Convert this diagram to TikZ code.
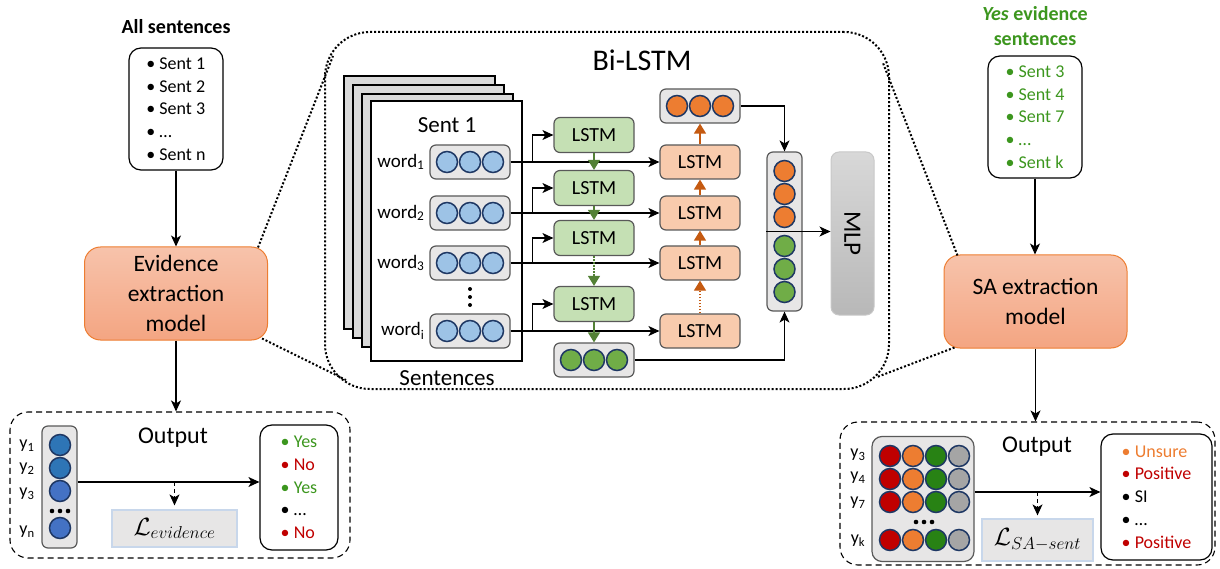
\documentclass[tikz,border=0pt]{standalone}
\usepackage{fontspec}
\setmainfont{Carlito}
\usetikzlibrary{arrows.meta,calc}
\definecolor{lstmG}{HTML}{C5E0B4}
\definecolor{lstmO}{HTML}{F8CBAD}
\definecolor{boxgray}{HTML}{E7E6E6}
\definecolor{edgegray}{HTML}{595959}
\definecolor{navy}{HTML}{1F3864}
\definecolor{cblue}{HTML}{9DC3E6}
\definecolor{cblueD}{HTML}{2E75B6}
\definecolor{cblueM}{HTML}{4472C4}
\definecolor{cgreen}{HTML}{70AD47}
\definecolor{corange}{HTML}{ED7D31}
\definecolor{arrG}{HTML}{538135}
\definecolor{arrO}{HTML}{C55A11}
\definecolor{txtG}{RGB}{60,150,30}
\definecolor{txtR}{HTML}{C00000}
\definecolor{cred}{HTML}{C00000}
\definecolor{cgreenD}{RGB}{40,130,20}
\definecolor{cgray}{HTML}{A5A5A5}
\definecolor{modtop}{HTML}{F7C3AB}
\definecolor{modbot}{HTML}{F4A582}
\definecolor{sheet}{HTML}{D9D9D9}
\definecolor{lborder}{RGB}{200,215,235}
\definecolor{mlpT}{RGB}{216,216,216}
\definecolor{mlpB}{RGB}{184,184,184}
\definecolor{mlpD}{RGB}{200,200,200}
\tikzset{
  listbox/.style={draw=black, line width=1.2pt, rounded corners=12pt, align=left, inner sep=0pt,
     font=\fontsize{18}{22.75}\selectfont},
  model/.style={draw=corange, line width=1pt, rounded corners=16pt, top color=modtop, bottom color=modbot,
     align=center, font=\fontsize{23.5}{30}\selectfont, minimum width=183pt, minimum height=93pt, inner sep=0pt},
  lstmg/.style={draw=edgegray, fill=lstmG, line width=1.2pt, rounded corners=6pt, minimum width=80pt,
     minimum height=35pt, inner sep=0pt, font=\fontsize{20}{24}\selectfont},
  lstmo/.style={lstmg, fill=lstmO, minimum height=34pt},
  vecbox/.style={draw=edgegray, fill=boxgray, line width=1.2pt, rounded corners=6pt, minimum width=80pt,
     minimum height=34pt, inner sep=0pt},
  dot/.style={circle, draw=navy, line width=1.5pt, minimum size=21pt, inner sep=0pt},
  arr/.style={-{Stealth[length=11pt,width=10pt,inset=3pt]}, line width=1.1pt},
  garr/.style={draw=arrG, line width=1.2pt, -{Triangle[length=10pt,width=12pt]}, arrG},
  oarr/.style={draw=arrO, line width=1.2pt, -{Triangle[length=10pt,width=12pt]}, arrO},
  funnel/.style={line width=2pt, dash pattern=on 2pt off 2pt},
  dashbox/.style={draw, line width=1.1pt, dash pattern=on 6pt off 4pt, rounded corners=18pt, inner sep=0pt},
  sheetbox/.style={draw=black, line width=2pt, fill=sheet, minimum width=151pt, minimum height=253pt, inner sep=0pt},
  lossbox/.style={draw=lborder, line width=1.2pt, fill=boxgray, inner sep=0pt, font=\fontsize{27}{30}\selectfont},
}
\begin{document}
\begin{tikzpicture}[x=1pt,y=-1pt]
\useasboundingbox (0,0) rectangle (1220,569);

% ================= LEFT COLUMN =================
\node[font=\bfseries\fontsize{20}{25}\selectfont] (alltitle) at (176,27) {All sentences};
\node[listbox, minimum width=94pt, minimum height=122pt] (allbox) at (176,109)
  {• Sent 1\\• Sent 2\\• Sent 3\\• …\\• Sent n};
\node[model] (evbox) at (176,293.5) {Evidence\\extraction\\model};
\node[dashbox, minimum width=340pt, minimum height=146pt] (outL) at (180,485) {};
\node[font=\fontsize{24}{28}\selectfont] (outLt) at (173,438) {Output};
\node[vecbox, minimum width=35pt, minimum height=122pt] (ycol) at (59.5,487) {};
\foreach \k/\y/\c in {1/445/cblueD,2/468/cblueD,3/491/cblueM,4/528/cblueM}
  \node[dot, fill=\c] (yc\k) at (60,\y) {};
\foreach \dx in {-8,0,8} \fill (60+\dx,511) circle (2.3);
\foreach \k/\y/\t in {1/446/1,2/469/2,3/494/3,4/532/n}
  \node[font=\fontsize{18}{22}\selectfont] (yl\k) at (27,\y) {y\textsubscript{\t}};
\node[listbox, minimum width=78pt, minimum height=125pt] (listL) at (299,487.5)
  {\color{txtG}• Yes\\\color{txtR}• No\\\color{txtG}• Yes\\\color{black}• …\\\color{txtR}• No};
\node[lossbox, minimum width=125pt, minimum height=37pt] (Lev) at (174.5,528.5) {$\mathcal{L}_{evidence}$};

\draw[arr] (allbox.south) -- (evbox.north);
\draw[arr] (evbox.south) -- (evbox.south |- outL.north);
\draw[arr] ([yshift=5pt]ycol.east) coordinate (aL) -- (aL -| listL.west);
\draw[arr, dash pattern=on 4pt off 3pt] (aL -| Lev.north) -- ([yshift=4pt]Lev.north);

% ================= CENTER =================
\node[draw, funnel, rounded corners=45pt, minimum width=564pt, minimum height=357pt, inner sep=0pt] (region) at (607,210.5) {};
\node[font=\fontsize{30}{34}\selectfont] (bititle) at (642,60) {Bi-LSTM};

\node[sheetbox] (sh1) at (419.5,202.5) {};
\node[sheetbox] (sh2) at (428.5,211.5) {};
\node[sheetbox] (sh3) at (437.5,220.5) {};
\node[sheetbox, fill=white, minimum height=260pt] (sh4) at (446.5,231) {};
\node[font=\fontsize{23}{27}\selectfont] (sent1) at (447,125) {Sent 1};
\node[font=\fontsize{23}{27}\selectfont] (sents) at (447,378) {Sentences};
\foreach \dy in {-8,0,8} \fill (470,297+\dy) circle (2);

% word boxes
\foreach \i/\y/\t in {1/162/1,2/213/2,3/263/3,4/331/i}{
  \node[vecbox] (w\i) at (470,\y) {};
  \foreach \k/\dx in {1/-23,2/0,3/23}
    \node[dot, fill=cblue] (w\i c\k) at (470+\dx,\y) {};
  \node[anchor=east, font=\fontsize{19}{22}\selectfont] (wl\i) at (428,\y) {word\textsubscript{\t}};
}
% green LSTMs
\foreach \i/\y in {1/135,2/188,3/238,4/304}
  \node[lstmg] (g\i) at (594,\y) {LSTM};
\node[vecbox] (gv) at (594,360) {};
\foreach \k/\dx in {1/-23,2/0,3/23}
  \node[dot, fill=cgreen] (gvc\k) at (594+\dx,360) {};
% orange LSTMs
\foreach \i/\y in {1/162,2/213,3/263,4/331}
  \node[lstmo] (o\i) at (700,\y) {LSTM};
\node[vecbox] (ov) at (700,106) {};
\foreach \k/\dx in {1/-23,2/0,3/23}
  \node[dot, fill=corange] (ovc\k) at (700+\dx,106) {};
% concat column
\node[vecbox, minimum width=35pt, minimum height=159pt] (cat) at (784.5,231.5) {};
\draw[line width=1.1pt] (cat.west) -- (cat.east);
\foreach \k/\y/\c in {1/171/corange,2/194/corange,3/217/corange,4/246/cgreen,5/269/cgreen,6/292/cgreen}
  \node[dot, fill=\c] (catc\k) at (784.5,\y) {};
% MLP
\node[draw=mlpD, line width=1pt, rounded corners=8pt, top color=mlpT, bottom color=mlpB,
  minimum width=43pt, minimum height=163pt, inner sep=0pt] (mlp) at (852.5,233.5) {};
\node[rotate=-90, font=\fontsize{25}{28}\selectfont] (mlpt) at (mlp) {MLP};

% connectors center
\foreach \i in {1,2,3,4}{
  \draw[arr] (w\i.east) -- (o\i.west);
  \path (w\i.east) ++(22,0) coordinate (b\i);
  \draw[arr] (b\i) |- (g\i.west);
}
\draw[garr] (g1.south) -- (g2.north);
\draw[garr] (g2.south) -- (g3.north);
\draw[garr, dash pattern=on 1.5pt off 1.5pt] (g3.south) -- (g4.north);
\draw[garr] (g4.south) -- (gv.north);
\draw[oarr, dash pattern=on 1.5pt off 1.5pt] (o4.north) -- (o3.south);
\draw[oarr] (o3.north) -- (o2.south);
\draw[oarr] (o2.north) -- (o1.south);
\draw[oarr] (o1.north) -- (ov.south);
\draw[arr] (ov.east) -| (cat.north);
\draw[arr] (gv.east) -| (cat.south);
\draw[arr] (cat.east) -- (cat.east -| mlp.west);

% ================= RIGHT COLUMN =================
\node[align=center, text=txtG, font=\bfseries\fontsize{20}{25}\selectfont] (yestitle) at (1035,26)
  {\textit{Yes} evidence\\sentences};
\node[listbox, text=txtG, minimum width=94pt, minimum height=122pt] (yesbox) at (1035,117)
  {• Sent 3\\• Sent 4\\• Sent 7\\• …\\• Sent k};
\node[model] (sabox) at (1035.5,301.5) {SA extraction\\model};
\node[dashbox, minimum width=375pt, minimum height=143pt] (outR) at (1027.5,493.5) {};
\node[font=\fontsize{24}{28}\selectfont] (outRt) at (1037,447) {Output};
\node[vecbox, minimum width=102pt, minimum height=125pt, rounded corners=10pt] (grid) at (923,499) {};
\foreach \r/\y in {1/456,2/479,3/502,4/540}
  \foreach \k/\x/\c in {1/890/cred,2/913/corange,3/936/cgreenD,4/959/cgray}
    \node[dot, fill=\c] (gr\r c\k) at (\x,\y) {};
\foreach \dx in {-8,0,8} \fill (924+\dx,522) circle (2.3);
\foreach \k/\y/\t in {1/455/3,2/478/4,3/503/7,4/541/k}
  \node[font=\fontsize{18}{22}\selectfont] (yr\k) at (858,\y) {y\textsubscript{\t}};
\node[listbox, minimum width=111pt, minimum height=126pt] (listR) at (1156.5,497)
  {\color{corange}• Unsure\\\color{txtR}• Positive\\\color{black}• SI\\• …\\\color{txtR}• Positive};
\node[lossbox, minimum width=111pt, minimum height=42pt] (Lsa) at (1037.5,540) {$\mathcal{L}_{SA-sent}$};

\draw[arr] (yesbox.south) -- (yesbox.south |- sabox.north);
\draw[arr] (sabox.south) -- (sabox.south |- outR.north);
\draw[arr] ([yshift=7pt]grid.east) coordinate (aR) -- (aR -| listR.west);
\draw[arr, dash pattern=on 4pt off 3pt] (aR -| Lsa.north) -- ([yshift=3pt]Lsa.north);

% ================= FUNNEL LINES =================
\coordinate (fTL) at (333,56);
\coordinate (fBL) at (346,380);
\coordinate (fTR) at (883,63);
\coordinate (fBR) at (877,377);
\draw[funnel] ([xshift=-10pt,yshift=-1pt]evbox.north east) -- (fTL);
\draw[funnel] ([xshift=-6pt,yshift=2pt]evbox.south east) -- (fBL);
\draw[funnel] ([xshift=14pt,yshift=-1pt]sabox.north west) -- (fTR);
\draw[funnel] ([xshift=11pt,yshift=1pt]sabox.south west) -- (fBR);
\end{tikzpicture}
\end{document}
